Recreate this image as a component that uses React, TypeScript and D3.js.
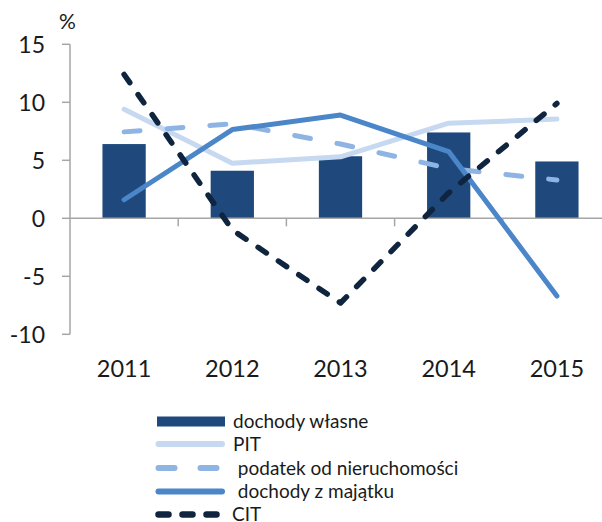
import React from "react";
import * as d3 from "d3";

const years = ["2011", "2012", "2013", "2014", "2015"];
const dochodyWlasne = [6.4, 4.1, 5.35, 7.4, 4.9];
const pit = [9.4, 4.75, 5.3, 8.2, 8.55];
const podatek = [7.45, 8.15, 6.4, 4.3, 3.3];
const majatek = [1.6, 7.65, 8.9, 5.75, -6.7];
const cit = [12.4, -1.0, -7.3, 2.2, 9.9];
const yTicks = [-10, -5, 0, 5, 10, 15];

const W = 602;
const H = 522;
const FONT = "Lato, 'Open Sans', sans-serif";
const TEXT = "#1a1a1a";
const AXIS = "#a6a6a6";

const lineSeries = [
  { name: "PIT", values: pit, color: "#c6d9f1", width: 5, dash: null, legendDash: null, lw: 6, tx: 233 },
  { name: " podatek od nieruchomości", values: podatek, color: "#8eb4e3", width: 5, dash: "16 27", legendDash: "16 26", lw: 6, tx: 233 },
  { name: " dochody z majątku", values: majatek, color: "#4a86c8", width: 5, dash: null, legendDash: null, lw: 6, tx: 233 },
  { name: "CIT", values: cit, color: "#0f243e", width: 5.5, dash: "10 14.5", legendDash: "10 14", lw: 6.5, tx: 232 },
];

export default function App() {
  const x = d3.scaleBand<string>().domain(years).range([70, 611]).paddingInner(0.6).paddingOuter(0.3);
  const y = d3.scaleLinear().domain([-10, 15]).range([334.3, 44.3]);
  const cx = (d: string) => (x(d) as number) + x.bandwidth() / 2;
  const step = x.step();
  const bounds = years.slice(1).map((_, i) => 70 + step * (i + 1));

  const line = d3
    .line<number>()
    .x((_, i) => cx(years[i]))
    .y((v) => y(v));

  const legendRows = [421.5, 444, 468, 491.5, 514.5];

  return (
    <svg width={W} height={H} style={{ position: "absolute", left: 0, top: 0, background: "#fff" }} fontFamily={FONT}>
      <rect width={W} height={H} fill="#fff" />
      {dochodyWlasne.map((v, i) => (
        <rect
          key={i}
          x={x(years[i])}
          y={y(Math.max(0, v))}
          width={x.bandwidth()}
          height={Math.abs(y(v) - y(0))}
          fill="#1f497d"
        />
      ))}
      <line x1={70} x2={W} y1={y(0)} y2={y(0)} stroke={AXIS} strokeWidth={1.5} />
      <line x1={70} x2={70} y1={y(15)} y2={y(-10)} stroke={AXIS} strokeWidth={1.5} />
      {yTicks.map((t) => (
        <g key={t}>
          <line x1={62} x2={70} y1={y(t)} y2={y(t)} stroke={AXIS} strokeWidth={1.5} />
          <text x={45} y={y(t)} dy="0.36em" textAnchor="end" fontSize={23} fill={TEXT}>
            {t}
          </text>
        </g>
      ))}
      {bounds.map((b, i) => (
        <line key={i} x1={b} x2={b} y1={y(0)} y2={y(0) + 8} stroke={AXIS} strokeWidth={1.5} />
      ))}
      {years.map((yr) => (
        <text key={yr} x={cx(yr)} y={377} textAnchor="middle" fontSize={23.5} fill={TEXT}>
          {yr}
        </text>
      ))}
      <text x={59} y={29} fontSize={21} fill={TEXT}>
        %
      </text>
      {lineSeries.map((s) => (
        <path
          key={s.name}
          d={line(s.values) as string}
          fill="none"
          stroke={s.color}
          strokeWidth={s.width}
          strokeLinecap="round"
          strokeLinejoin="round"
          strokeDasharray={s.dash ?? undefined}
        />
      ))}
      <rect x={157} y={legendRows[0] - 5} width={68} height={10} fill="#1f497d" />
      <text x={233} y={legendRows[0]} dy="0.35em" fontSize={19} fill={TEXT}>
        dochody własne
      </text>
      {lineSeries.map((s, i) => (
        <g key={s.name}>
          <line
            x1={158.5}
            x2={s.legendDash ? 217 : 222}
            y1={legendRows[i + 1]}
            y2={legendRows[i + 1]}
            stroke={s.color}
            strokeWidth={s.lw}
            strokeLinecap="round"
            strokeDasharray={s.legendDash ?? undefined}
          />
          <text x={s.tx} y={legendRows[i + 1]} dy="0.35em" fontSize={19} fill={TEXT} style={{ whiteSpace: "pre" }}>
            {s.name}
          </text>
        </g>
      ))}
    </svg>
  );
}
